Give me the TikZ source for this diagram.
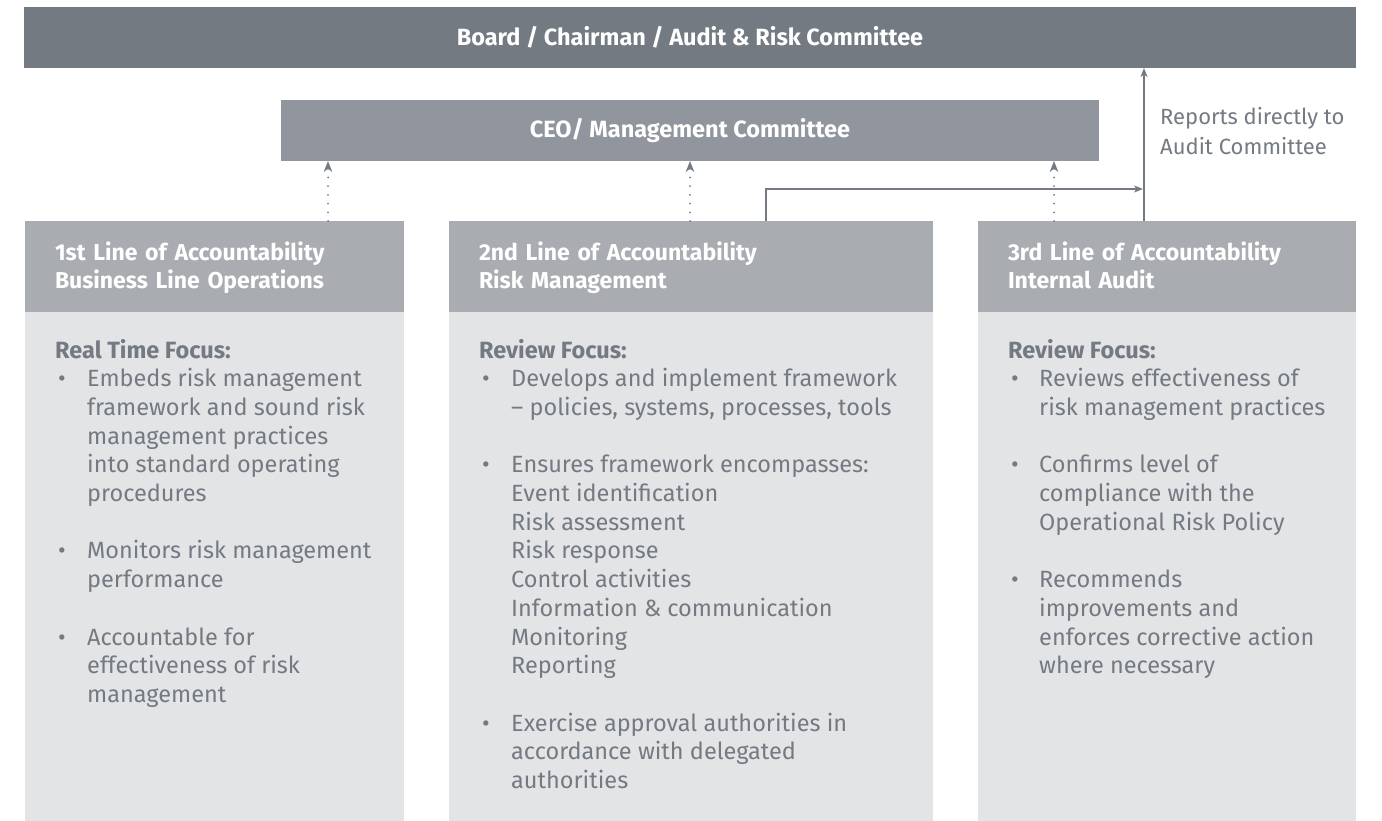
\documentclass[tikz,border=0pt]{standalone}
\usepackage{fontspec}
\setmainfont{Fira Sans}
\usetikzlibrary{arrows.meta}
\definecolor{barDark}{HTML}{737A82}
\definecolor{barMid}{HTML}{91959D}
\definecolor{hdrGrey}{HTML}{A9ADB1}
\definecolor{bodyGrey}{HTML}{E3E4E6}
\definecolor{txtGrey}{HTML}{737A82}
\definecolor{lineGrey}{HTML}{737A82}
\newcommand{\bul}{\hspace*{3pt}\textbullet}
\tikzset{
  topbar/.style={fill=#1, text=white, anchor=north west, inner sep=0pt, outer sep=0pt,
    minimum height=61pt, font=\fontsize{23.5}{27}\selectfont\bfseries},
  hdr/.style={fill=hdrGrey, text=white, anchor=north west, inner xsep=30pt, inner ysep=0pt,
    outer sep=0pt, minimum height=91pt, align=left, font=\fontsize{23}{28}\selectfont\bfseries,
    execute at begin node=\rule{0pt}{24pt}, execute at end node=\strut},
  bodybox/.style={fill=bodyGrey, anchor=north west, inner sep=0pt, outer sep=0pt, minimum height=509pt},
  bodytxt/.style={text=txtGrey, anchor=base west, inner sep=0pt, font=\fontsize{23.5}{28.7}\selectfont},
  dotlink/.style={draw=lineGrey, line width=2pt, line cap=round, dash pattern=on 0pt off 8.7pt,
    -{Stealth[length=11pt,width=8.5pt,inset=3.5pt]}},
  link/.style={draw=lineGrey, line width=1.3pt, -{Stealth[length=9pt,width=7pt,inset=2.5pt]}}
}
\begin{document}
\begin{tikzpicture}[x=1pt, y=1pt]
\useasboundingbox (0,0) rectangle (1382,-821);
% top of the structure
\node[topbar=barDark, minimum width=1332pt] (board) at (24,-7) {Board / Chairman / Audit \& Risk Committee};
\node[topbar=barMid, minimum width=818pt] (ceo) at (281,-100) {CEO/ Management Committee};
% the three lines
\node[hdr, text width=319pt] (h1) at (25,-221) {1st Line of Accountability\\Business Line Operations};
\node[hdr, text width=424pt] (h2) at (449,-221) {2nd Line of Accountability\\Risk Management};
\node[hdr, text width=318pt] (h3) at (978,-221) {3rd Line of Accountability\\Internal Audit};
\node[bodybox, minimum width=379pt] (b1) at (h1.south west) {};
\node[bodybox, minimum width=484pt] (b2) at (h2.south west) {};
\node[bodybox, minimum width=378pt] (b3) at (h3.south west) {};
\node[bodytxt] (t1) at (55,-358) {\begin{tabular}[t]{@{}p{32pt}@{}l@{}}
\multicolumn{2}{@{}l@{}}{\bfseries Real Time Focus:}\\
\bul & Embeds risk management\\
 & framework and sound risk\\
 & management practices\\
 & into standard operating\\
 & procedures\\
 & \\
\bul & Monitors risk management\\
 & performance\\
 & \\
\bul & Accountable for\\
 & effectiveness of risk\\
 & management
\end{tabular}};
\node[bodytxt] (t2) at (479,-358) {\begin{tabular}[t]{@{}p{32pt}@{}l@{}}
\multicolumn{2}{@{}l@{}}{\bfseries Review Focus:}\\
\bul & Develops and implement framework\\
 & -- policies, systems, processes, tools\\
 & \\
\bul & Ensures framework encompasses:\\
 & Event identification\\
 & Risk assessment\\
 & Risk response\\
 & Control activities\\
 & Information \& communication\\
 & Monitoring\\
 & Reporting\\
 & \\
\bul & Exercise approval authorities in\\
 & accordance with delegated\\
 & authorities
\end{tabular}};
\node[bodytxt] (t3) at (1008,-358) {\begin{tabular}[t]{@{}p{31pt}@{}l@{}}
\multicolumn{2}{@{}l@{}}{\bfseries Review Focus:}\\
\bul & Reviews effectiveness of\\
 & risk management practices\\
 & \\
\bul & Confirms level of\\
 & compliance with the\\
 & Operational Risk Policy\\
 & \\
\bul & Recommends\\
 & improvements and\\
 & enforces corrective action\\
 & where necessary
\end{tabular}};
% reporting lines
\draw[dotlink] ([xshift=47pt]ceo.south west |- h1.north) -- ([xshift=47pt]ceo.south west);
\draw[dotlink] (ceo.south |- h2.north) -- (ceo.south);
\draw[dotlink] ([xshift=-45pt]ceo.south east |- h3.north) -- ([xshift=-45pt]ceo.south east);
\draw[link] ([xshift=166pt]h3.north west) -- ([xshift=166pt]h3.north west |- board.south);
\draw[link] ([xshift=75pt]h2.north) |- ([xshift=165pt,yshift=32pt]h3.north west);
\node[bodytxt, font=\fontsize{22}{28.7}\selectfont] (rep) at (1160,-125) {\begin{tabular}[t]{@{}l@{}}
Reports directly to\\[1.3pt]
Audit Committee
\end{tabular}};
\end{tikzpicture}
\end{document}
